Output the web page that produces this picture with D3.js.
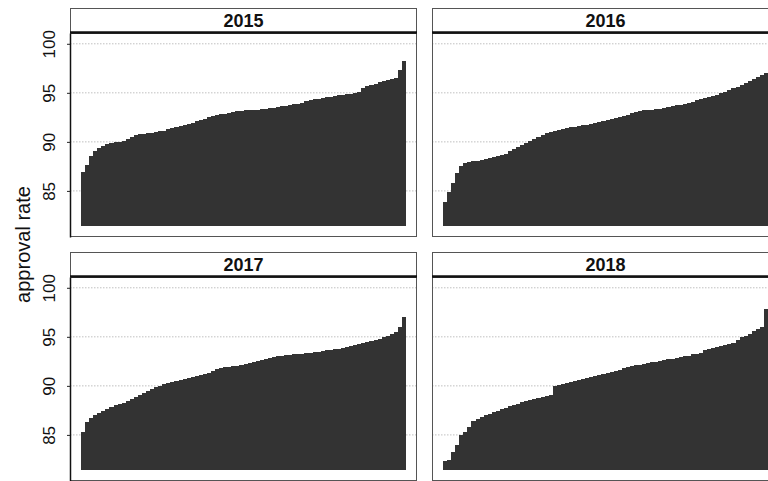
<!DOCTYPE html>
<html>
<head>
<meta charset="utf-8">
<script src="https://cdn.jsdelivr.net/npm/d3@7"></script>
<style>
  html, body { margin: 0; padding: 0; background: #fff; }
  svg { display: block; font-family: "Liberation Sans", Arial, Helvetica, sans-serif; }
</style>
</head>
<body>
<div id="chart"></div>
<script>
// Approval rates per unit, sorted ascending, one panel per year
const years = ["2015", "2016", "2017", "2018"];

const rates2015 = [
  86.9, 87.6, 88.6, 89.1, 89.4, 89.6, 89.8, 89.9, 90.0, 90.0,
  90.1, 90.3, 90.5, 90.7, 90.8, 90.8, 90.9, 90.9, 91.0, 91.1,
  91.1, 91.3, 91.4, 91.5, 91.6, 91.7, 91.8, 91.9, 92.1, 92.2,
  92.3, 92.5, 92.6, 92.7, 92.8, 92.8, 92.9, 93.0, 93.1, 93.1,
  93.2, 93.2, 93.3, 93.3, 93.4, 93.4, 93.5, 93.5, 93.6, 93.7,
  93.7, 93.8, 93.9, 93.9, 94.0, 94.2, 94.3, 94.4, 94.4, 94.5,
  94.6, 94.6, 94.7, 94.8, 94.8, 94.9, 94.9, 95.0, 95.1, 95.5,
  95.7, 95.8, 95.9, 96.1, 96.2, 96.3, 96.4, 96.5, 97.3, 98.2
];

const rates2016 = [
  83.9, 84.9, 85.8, 86.8, 87.5, 87.8, 87.9, 88.0, 88.1, 88.2,
  88.3, 88.4, 88.5, 88.6, 88.7, 88.8, 89.1, 89.3, 89.5, 89.7,
  89.9, 90.1, 90.3, 90.5, 90.7, 90.9, 91.0, 91.1, 91.2, 91.3,
  91.4, 91.5, 91.5, 91.6, 91.7, 91.7, 91.8, 91.9, 92.0, 92.1,
  92.2, 92.3, 92.4, 92.5, 92.6, 92.7, 92.9, 93.0, 93.1, 93.2,
  93.3, 93.3, 93.4, 93.4, 93.5, 93.6, 93.7, 93.8, 93.8, 93.9,
  94.0, 94.1, 94.3, 94.4, 94.5, 94.6, 94.7, 94.8, 95.0, 95.1,
  95.3, 95.5, 95.6, 95.8, 96.0, 96.2, 96.4, 96.6, 96.8, 97.0
];

const rates2017 = [
  85.3, 86.3, 86.7, 87.0, 87.2, 87.4, 87.6, 87.8, 88.0, 88.2,
  88.3, 88.5, 88.7, 88.9, 89.1, 89.3, 89.5, 89.7, 89.9, 90.0,
  90.2, 90.3, 90.4, 90.5, 90.6, 90.7, 90.8, 90.9, 91.0, 91.1,
  91.2, 91.3, 91.5, 91.7, 91.8, 91.9, 91.9, 92.0, 92.0, 92.1,
  92.2, 92.3, 92.4, 92.5, 92.6, 92.7, 92.8, 92.9, 93.0, 93.0,
  93.1, 93.1, 93.2, 93.3, 93.3, 93.4, 93.4, 93.5, 93.5, 93.6,
  93.7, 93.7, 93.8, 93.8, 93.9, 94.0, 94.1, 94.2, 94.3, 94.4,
  94.5, 94.6, 94.7, 94.8, 95.0, 95.1, 95.3, 95.5, 96.0, 97.0
];

const rates2018 = [
  82.3, 82.4, 83.3, 84.0, 85.0, 85.3, 85.8, 86.4, 86.6, 86.8,
  87.0, 87.1, 87.3, 87.4, 87.6, 87.7, 87.9, 88.1, 88.2, 88.4,
  88.5, 88.6, 88.7, 88.8, 88.9, 89.0, 89.1, 90.0, 90.1, 90.2,
  90.3, 90.4, 90.5, 90.6, 90.7, 90.8, 90.9, 91.0, 91.1, 91.2,
  91.3, 91.4, 91.5, 91.6, 91.8, 91.9, 92.0, 92.1, 92.1, 92.2,
  92.3, 92.4, 92.4, 92.5, 92.6, 92.7, 92.7, 92.8, 92.9, 93.0,
  93.0, 93.2, 93.3, 93.4, 93.7, 93.8, 93.9, 94.0, 94.1, 94.2,
  94.3, 94.4, 94.7, 95.0, 95.1, 95.3, 95.6, 95.8, 96.0, 97.8
];

const yTicks = [85, 90, 95, 100];
const yTitle = "approval rate";

const series = [rates2015, rates2016, rates2017, rates2018];

// Layout
const W = 768, H = 481;
const colX = [70, 432];
const rowY = [8, 252];
const panelW = 347;
const headerH = 25;
const plotH = 204;
const barBase = 81.4;

const svg = d3.select("#chart").append("svg")
  .attr("width", W).attr("height", H);

svg.append("rect").attr("width", W).attr("height", H).attr("fill", "#fff");

const y = d3.scaleLinear().domain([80.3, 101.1]).range([plotH, 0]);

years.forEach((year, k) => {
  const values = series[k];
  const col = k % 2, row = Math.floor(k / 2);
  const g = svg.append("g")
    .attr("transform", `translate(${colX[col]},${rowY[row] + headerH})`);

  const x = d3.scaleBand()
    .domain(d3.range(values.length))
    .range([11, panelW - 11])
    .padding(0);

  // dotted gridlines
  g.append("g").selectAll("line").data(yTicks).join("line")
    .attr("x1", 0).attr("x2", panelW)
    .attr("y1", d => y(d)).attr("y2", d => y(d))
    .attr("stroke", "#b0b0b0")
    .attr("stroke-width", 0.8)
    .attr("stroke-dasharray", "1.5,1.5");

  // bars
  g.append("g").selectAll("rect").data(values).join("rect")
    .attr("x", (d, i) => x(i))
    .attr("width", x.bandwidth() + 0.4)
    .attr("y", d => y(d))
    .attr("height", d => y(barBase) - y(d))
    .attr("fill", "#333")
    .attr("shape-rendering", "crispEdges");

  // plot frame
  g.append("rect")
    .attr("x", 0.5).attr("y", 0)
    .attr("width", panelW - 1).attr("height", plotH - 0.5)
    .attr("fill", "none")
    .attr("stroke", "#555").attr("stroke-width", 1);

  // y axis on the left column
  if (col === 0) {
    const ax = g.append("g").call(
      d3.axisLeft(y).tickValues(yTicks).tickSize(3).tickSizeOuter(0)
    );
    ax.select(".domain").attr("stroke", "#111").attr("stroke-width", 1.5);
    ax.selectAll(".tick line").attr("stroke", "#222");
    ax.selectAll(".tick text")
      .attr("transform", "rotate(-90)")
      .attr("x", 0).attr("y", -15).attr("dy", 0)
      .attr("text-anchor", "middle")
      .attr("fill", "#111")
      .style("font-size", "17px")
      .style("font-family", "'Liberation Sans', Arial, sans-serif");
  }

  // header strip with year
  const hg = svg.append("g")
    .attr("transform", `translate(${colX[col]},${rowY[row]})`);
  hg.append("rect")
    .attr("x", 0.5).attr("y", 0.5)
    .attr("width", panelW - 1).attr("height", headerH)
    .attr("fill", "#fff")
    .attr("stroke", "#555").attr("stroke-width", 1);
  hg.append("line")
    .attr("x1", 0).attr("x2", panelW)
    .attr("y1", headerH - 0.5).attr("y2", headerH - 0.5)
    .attr("stroke", "#111").attr("stroke-width", 2.6);
  hg.append("text")
    .attr("x", panelW / 2).attr("y", 18.5)
    .attr("text-anchor", "middle")
    .attr("fill", "#111")
    .style("font-size", "18px")
    .style("font-weight", "bold")
    .text(year);
});

// shared y-axis title
svg.append("text")
  .attr("transform", `translate(30,${(rowY[0] + H) / 2}) rotate(-90)`)
  .attr("text-anchor", "middle")
  .attr("fill", "#111")
  .style("font-size", "20px")
  .text(yTitle);
</script>
</body>
</html>
